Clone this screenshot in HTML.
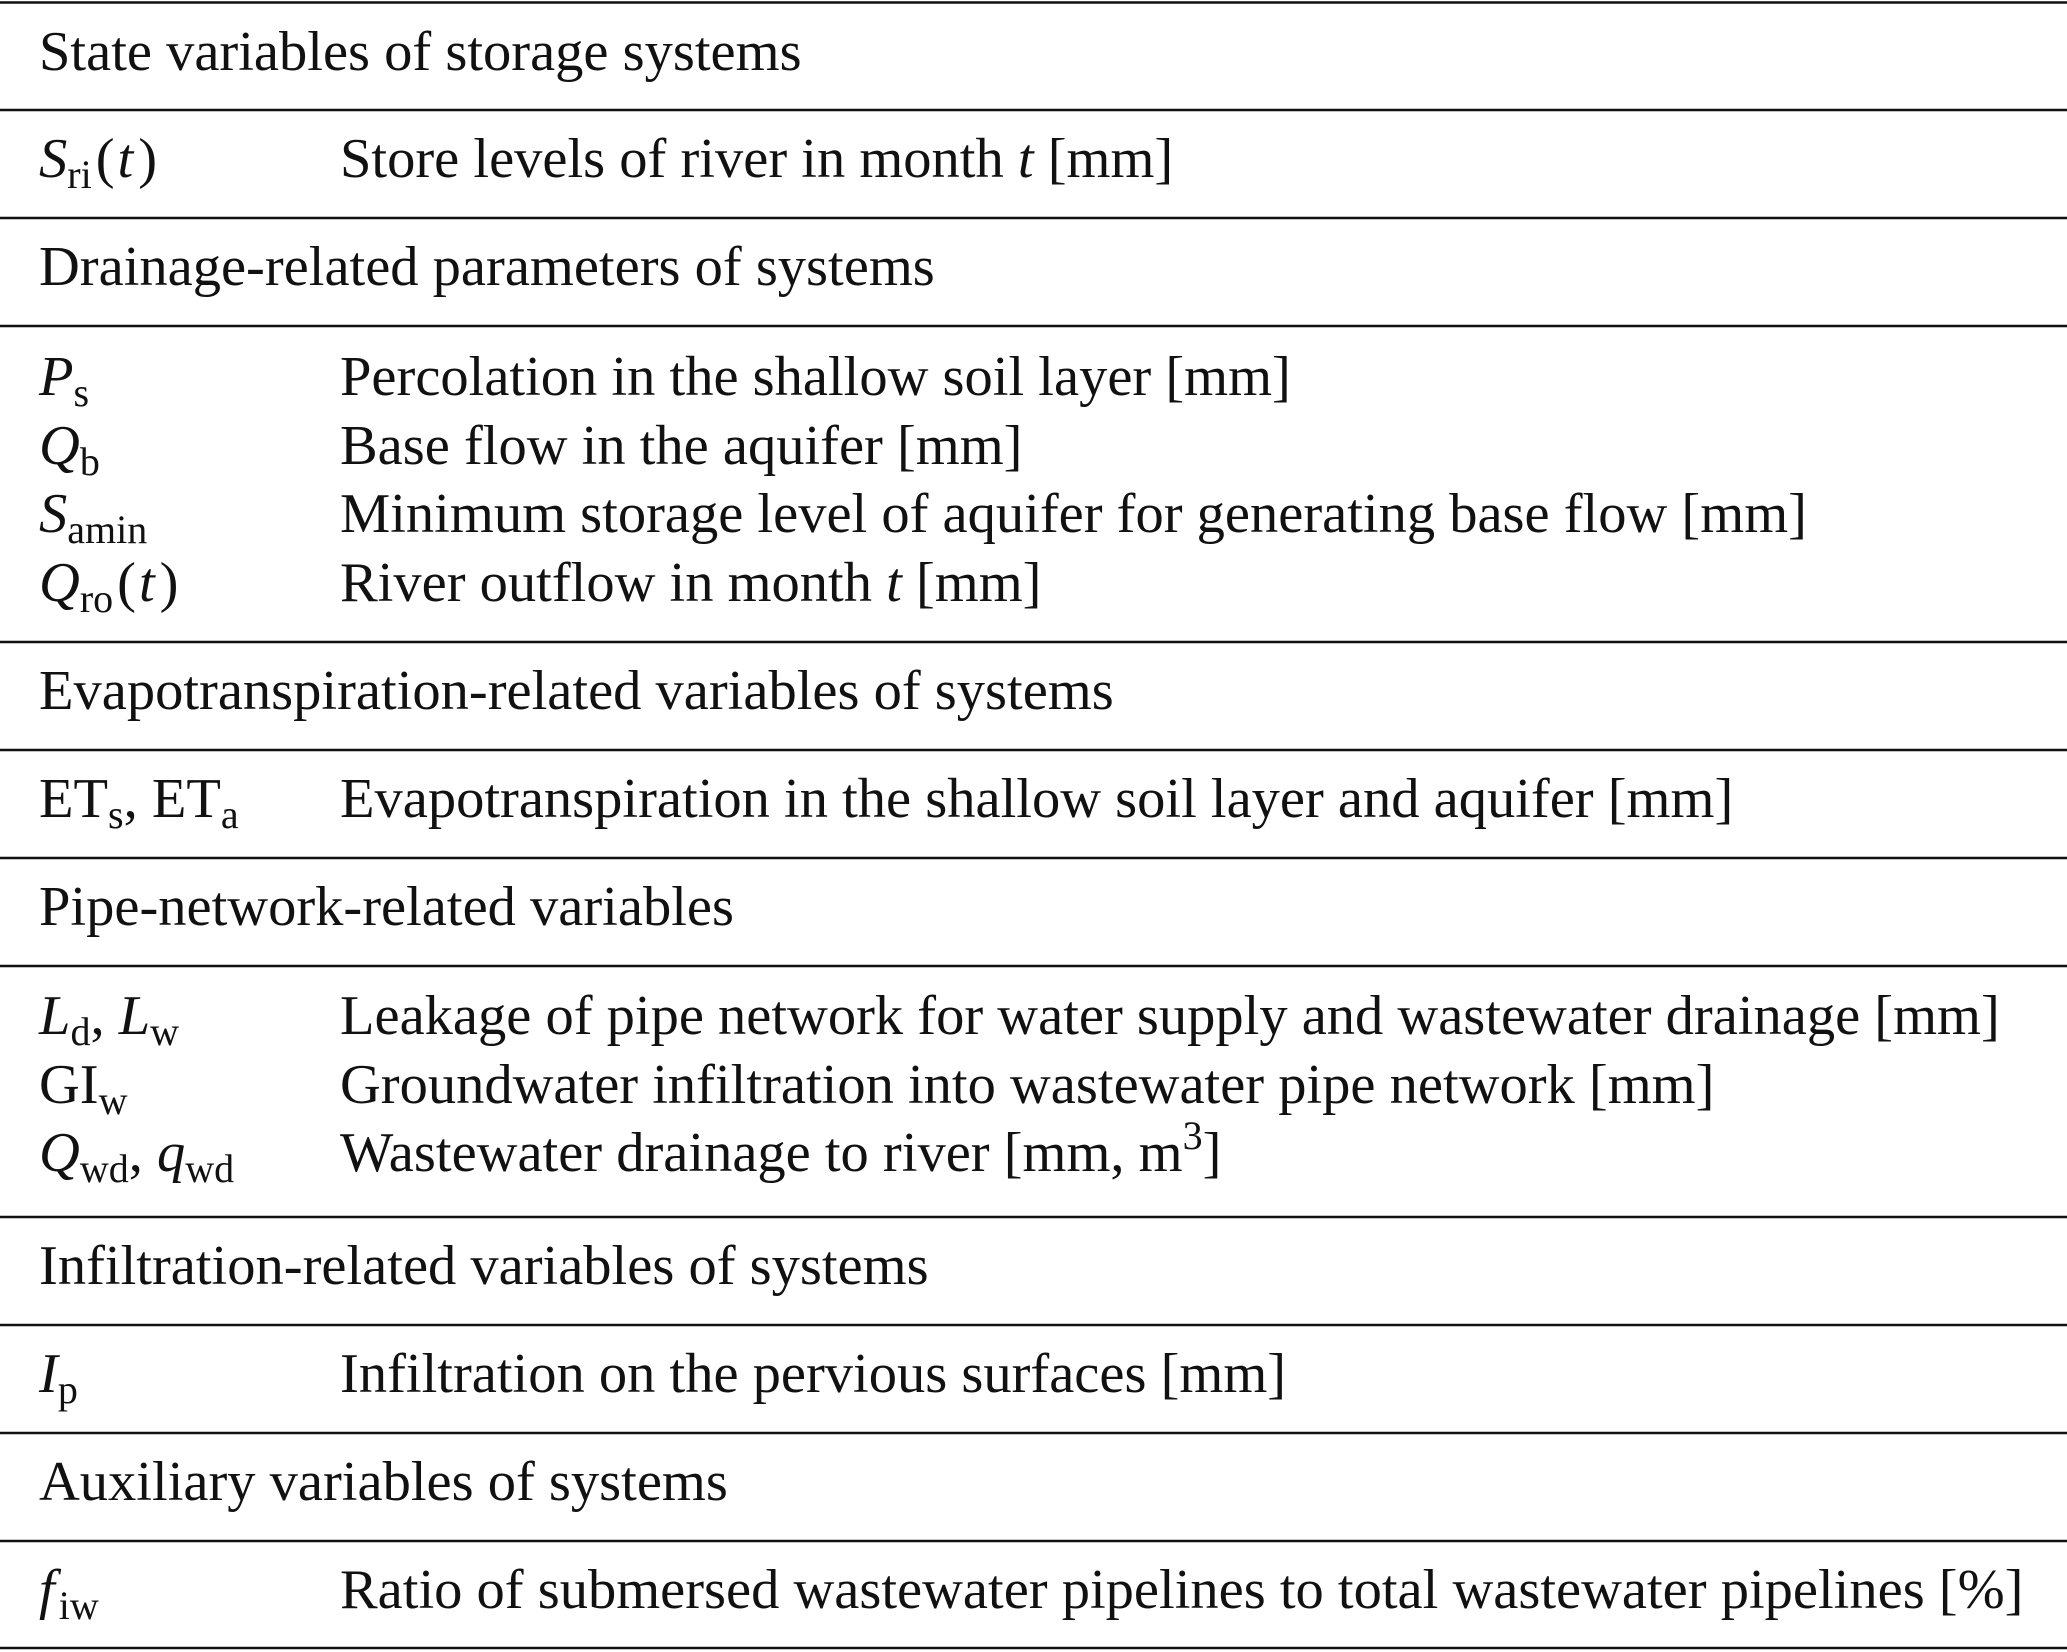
<!DOCTYPE html>
<html><head><meta charset="utf-8"><style>
html,body{margin:0;padding:0;background:#fff;}
svg{display:block;}
text{font-family:"Liberation Serif",serif;font-size:56.5px;fill:#111;}
.i{font-style:italic;}
.s{font-size:40px;}
</style></head><body>
<svg width="2067" height="1652" viewBox="0 0 2067 1652" xmlns="http://www.w3.org/2000/svg">
<g stroke="#111" stroke-width="2.6">
<line x1="0" y1="2.5" x2="2067" y2="2.5"/>
<line x1="0" y1="110" x2="2067" y2="110"/>
<line x1="0" y1="218" x2="2067" y2="218"/>
<line x1="0" y1="326" x2="2067" y2="326"/>
<line x1="0" y1="642" x2="2067" y2="642"/>
<line x1="0" y1="750" x2="2067" y2="750"/>
<line x1="0" y1="858" x2="2067" y2="858"/>
<line x1="0" y1="966" x2="2067" y2="966"/>
<line x1="0" y1="1217" x2="2067" y2="1217"/>
<line x1="0" y1="1325" x2="2067" y2="1325"/>
<line x1="0" y1="1433" x2="2067" y2="1433"/>
<line x1="0" y1="1541" x2="2067" y2="1541"/>
<line x1="0" y1="1648" x2="2067" y2="1648"/>
</g>
<text x="39" y="70">State variables of storage systems</text>
<text x="39" y="177"><tspan class="i">S</tspan><tspan class="s" dy="11">ri</tspan><tspan dy="-11" dx="4">(</tspan><tspan class="i" dx="3">t</tspan><tspan dx="5">)</tspan></text>
<text x="340" y="177">Store levels of river in month <tspan class="i">t</tspan> [mm]</text>
<text x="39" y="285">Drainage-related parameters of systems</text>

<text x="39" y="395"><tspan class="i">P</tspan><tspan class="s" dy="11">s</tspan></text>
<text x="340" y="395">Percolation in the shallow soil layer [mm]</text>
<text x="39" y="464"><tspan class="i">Q</tspan><tspan class="s" dy="11">b</tspan></text>
<text x="340" y="464">Base flow in the aquifer [mm]</text>
<text x="39" y="532"><tspan class="i">S</tspan><tspan class="s" dy="11">amin</tspan></text>
<text x="340" y="532">Minimum storage level of aquifer for generating base flow [mm]</text>
<text x="39" y="601"><tspan class="i">Q</tspan><tspan class="s" dy="11">ro</tspan><tspan dy="-11" dx="4">(</tspan><tspan class="i" dx="3">t</tspan><tspan dx="5">)</tspan></text>
<text x="340" y="601">River outflow in month <tspan class="i">t</tspan> [mm]</text>

<text x="39" y="709">Evapotranspiration-related variables of systems</text>
<text x="39" y="817">ET<tspan class="s" dy="11">s</tspan><tspan dy="-11">, ET</tspan><tspan class="s" dy="11">a</tspan></text>
<text x="340" y="817">Evapotranspiration in the shallow soil layer and aquifer [mm]</text>
<text x="39" y="925">Pipe-network-related variables</text>

<text x="39" y="1034"><tspan class="i">L</tspan><tspan class="s" dy="11">d</tspan><tspan dy="-11">, </tspan><tspan class="i">L</tspan><tspan class="s" dy="11">w</tspan></text>
<text x="340" y="1034">Leakage of pipe network for water supply and wastewater drainage [mm]</text>
<text x="39" y="1103">GI<tspan class="s" dy="11">w</tspan></text>
<text x="340" y="1103">Groundwater infiltration into wastewater pipe network [mm]</text>
<text x="39" y="1171"><tspan class="i">Q</tspan><tspan class="s" dy="11">wd</tspan><tspan dy="-11">, </tspan><tspan class="i">q</tspan><tspan class="s" dy="11">wd</tspan></text>
<text x="340" y="1171">Wastewater drainage to river [mm, m<tspan class="s" dy="-22">3</tspan><tspan dy="22">]</tspan></text>

<text x="39" y="1284">Infiltration-related variables of systems</text>
<text x="39" y="1392"><tspan class="i">I</tspan><tspan class="s" dy="11">p</tspan></text>
<text x="340" y="1392">Infiltration on the pervious surfaces [mm]</text>
<text x="39" y="1500">Auxiliary variables of systems</text>
<text x="39" y="1608"><tspan class="i">f</tspan><tspan class="s" dy="11" dx="4">iw</tspan></text>
<text x="340" y="1608">Ratio of submersed wastewater pipelines to total wastewater pipelines [%]</text>
</svg>
</body></html>
